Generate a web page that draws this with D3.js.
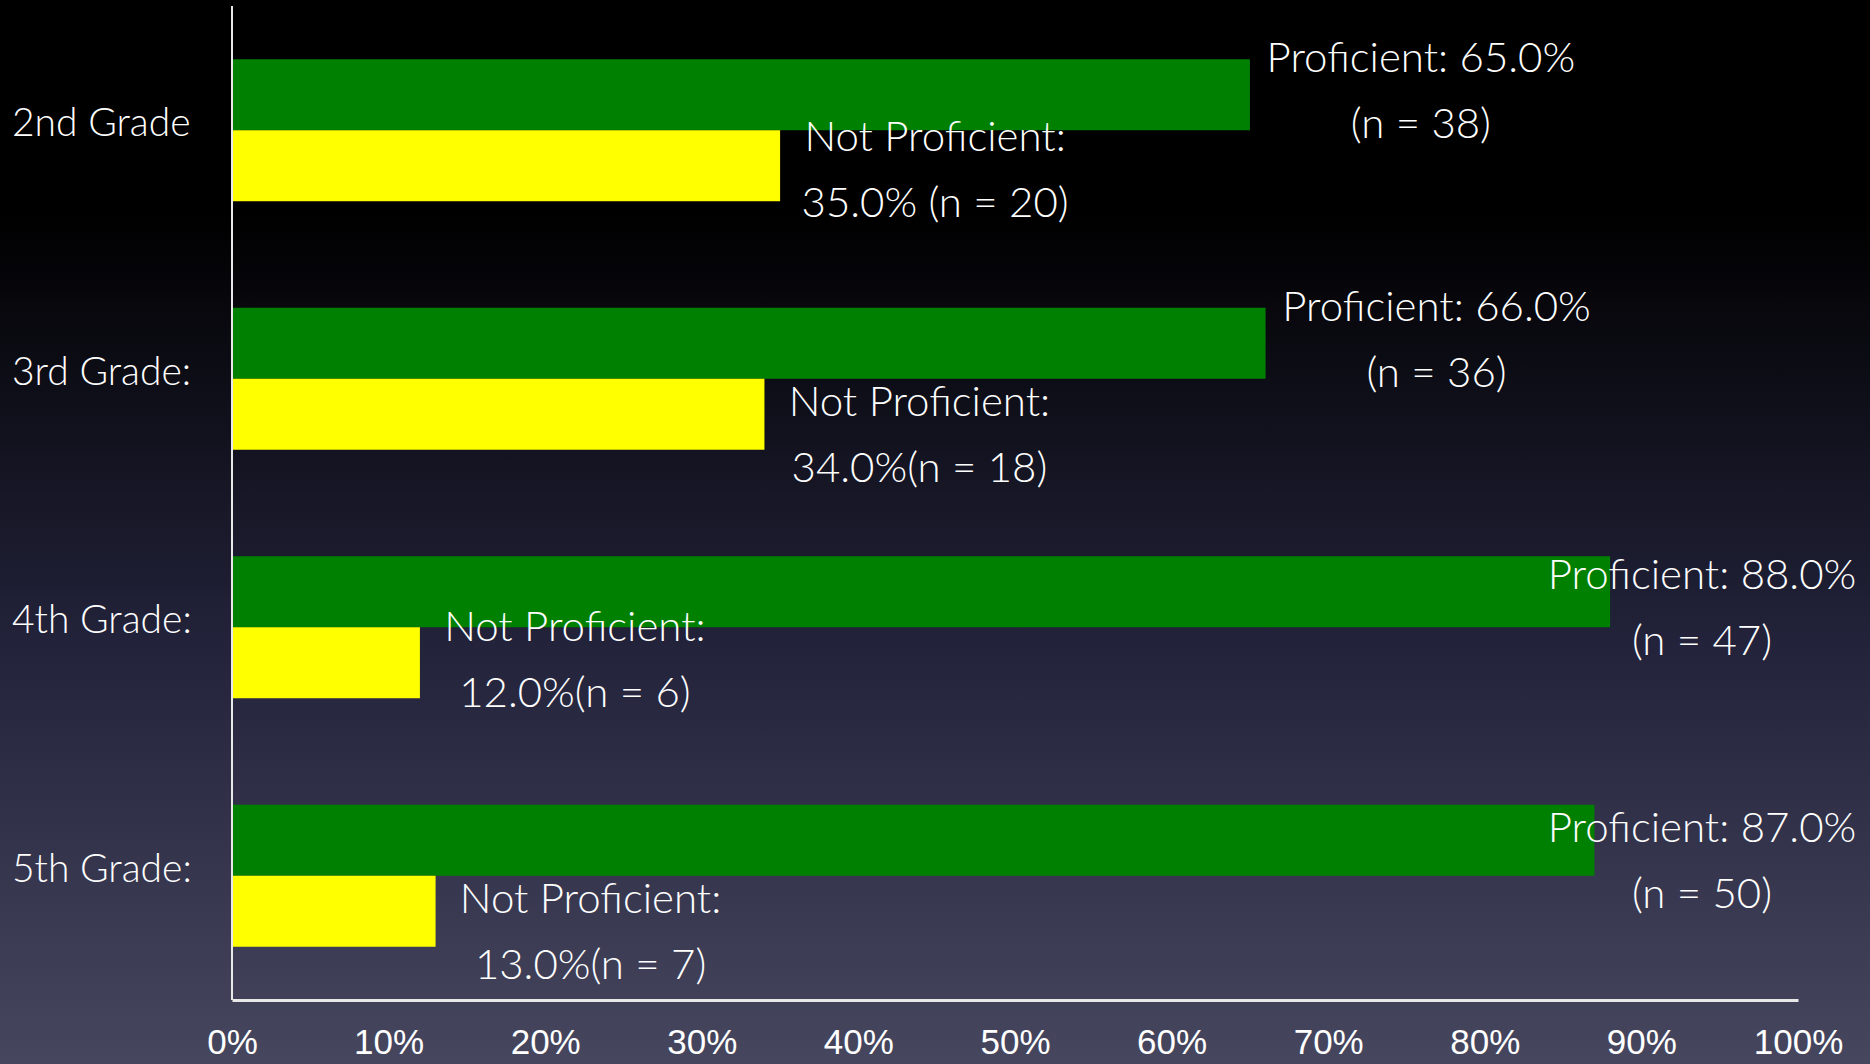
<!DOCTYPE html>
<html>
<head>
<meta charset="utf-8">
<script src="https://cdn.jsdelivr.net/npm/d3@7"></script>
<style>
  html, body { margin: 0; padding: 0; background: #000; }
  svg { display: block; }
</style>
</head>
<body>
<svg id="chart" width="1870" height="1064"></svg>
<script>
// ---- data ----
const categories = ["2nd Grade", "3rd Grade:", "4th Grade:", "5th Grade:"];
const series = ["Proficient", "Not Proficient"];
const proficientPct = [65, 66, 88, 87];
const notProficientPct = [35, 34, 12, 13];
const proficientN = [38, 36, 47, 50];
const notProficientN = [20, 18, 6, 7];
const notProficientCountText = ["35.0% (n = 20)", "34.0%(n = 18)", "12.0%(n = 6)", "13.0%(n = 7)"];
const tickValues = [0, 10, 20, 30, 40, 50, 60, 70, 80, 90, 100];

// ---- layout (label nudges, not data) ----
const profLabelDy = [13, 13, 33, 37];
const notLabelDy = [21, 37, 14, 37];

const W = 1870, H = 1064;
const svg = d3.select("#chart");

// background gradient
const defs = svg.append("defs");
const grad = defs.append("linearGradient").attr("id", "bg").attr("x1", 0).attr("y1", 0).attr("x2", 0).attr("y2", 1);
grad.append("stop").attr("offset", "0%").attr("stop-color", "#000000");
grad.append("stop").attr("offset", "20%").attr("stop-color", "#000000");
grad.append("stop").attr("offset", "60%").attr("stop-color", "#22223a");
grad.append("stop").attr("offset", "100%").attr("stop-color", "#46475f");
svg.append("rect").attr("width", W).attr("height", H).attr("fill", "url(#bg)");

const x = d3.scaleLinear().domain([0, 100]).range([232, 1798]);
const pad = 0.4286;
const y0 = d3.scaleBand().domain(categories).range([6, 1000]).paddingInner(pad).paddingOuter(pad / 2);
const y1 = d3.scaleBand().domain(series).range([0, y0.bandwidth()]);
const color = d3.scaleOrdinal().domain(series).range(["#008000", "#ffff00"]);

const rows = categories.map((c, i) => ({
  cat: c, i,
  values: [
    { s: "Proficient", v: proficientPct[i] },
    { s: "Not Proficient", v: notProficientPct[i] }
  ]
}));

const textFont = "Lato, 'Open Sans', sans-serif";

// bars
const g = svg.append("g").selectAll("g").data(rows).join("g")
  .attr("transform", d => `translate(0,${y0(d.cat)})`);
g.selectAll("rect").data(d => d.values).join("rect")
  .attr("x", x(0))
  .attr("y", d => y1(d.s))
  .attr("width", d => x(d.v) - x(0))
  .attr("height", y1.bandwidth())
  .attr("fill", d => color(d.s));

// axes lines
svg.append("line").attr("x1", x(0)).attr("x2", x(0)).attr("y1", 6).attr("y2", 1000)
  .attr("stroke", "#e8e8e8").attr("stroke-width", 2);

const xAxis = d3.axisBottom(x).tickValues(tickValues).tickSize(0).tickFormat(d => d + "%");
const ax = svg.append("g").attr("transform", "translate(0,1000)").call(xAxis);
ax.select(".domain").attr("stroke", "#e8e8e8").attr("stroke-width", 3);
ax.selectAll(".tick text")
  .attr("y", 54).attr("dy", 0)
  .attr("fill", "#ffffff")
  .style("font-family", "'Liberation Sans', Arial, sans-serif")
  .style("font-size", "35px");

// category labels
svg.append("g").selectAll("text").data(rows).join("text")
  .attr("x", 12)
  .attr("y", d => y0(d.cat) + y0.bandwidth() / 2 + 6)
  .attr("fill", "#ffffff")
  .style("font-family", textFont)
  .style("font-weight", 300)
  .style("font-size", "39px")
  .text(d => d.cat);

// proficient labels
const fmt = d3.format(".1f");
const profG = svg.append("g").selectAll("text").data(rows).join("text")
  .attr("text-anchor", "middle")
  .attr("fill", "#ffffff")
  .style("font-family", textFont)
  .style("font-weight", 300)
  .style("font-size", "42px")
  .attr("transform", d => {
    const cx = Math.min(x(proficientPct[d.i]) + 171, x(100) - 96);
    const ty = y0(d.cat) + y1("Proficient") + profLabelDy[d.i];
    return `translate(${cx},${ty})`;
  });
profG.append("tspan").attr("x", 0).attr("y", 0).text(d => `Proficient: ${fmt(proficientPct[d.i])}%`);
profG.append("tspan").attr("x", 0).attr("y", 66).text(d => `(n = ${proficientN[d.i]})`);

// not proficient labels
const notG = svg.append("g").selectAll("text").data(rows).join("text")
  .attr("text-anchor", "middle")
  .attr("fill", "#ffffff")
  .style("font-family", textFont)
  .style("font-weight", 300)
  .style("font-size", "42px")
  .attr("transform", d => {
    const cx = x(notProficientPct[d.i]) + 155;
    const ty = y0(d.cat) + y1("Not Proficient") + notLabelDy[d.i];
    return `translate(${cx},${ty})`;
  });
notG.append("tspan").attr("x", 0).attr("y", 0).text("Not Proficient:");
notG.append("tspan").attr("x", 0).attr("y", 66).text(d => notProficientCountText[d.i]);
</script>
</body>
</html>
